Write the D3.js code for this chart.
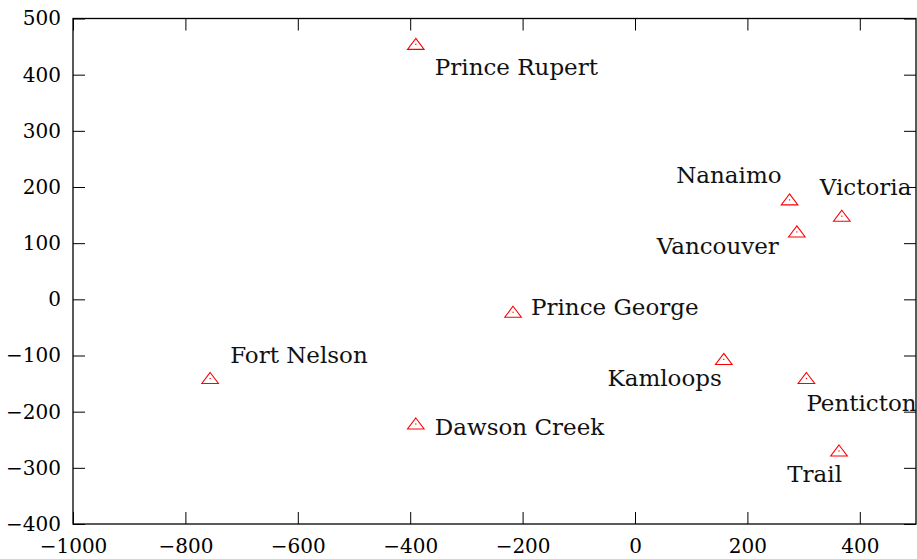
<!DOCTYPE html>
<html>
<head>
<meta charset="utf-8">
<script src="https://cdn.jsdelivr.net/npm/d3@7"></script>
<style>
  html, body { margin: 0; padding: 0; background: #fff; }
  svg { display: block; }
</style>
</head>
<body>
<svg id="chart" width="917" height="559"></svg>
<script>
// City positions (map-style coordinates)
const cities = ["Prince Rupert", "Nanaimo", "Victoria", "Vancouver", "Prince George",
                "Fort Nelson", "Kamloops", "Penticton", "Dawson Creek", "Trail"];
const xValues = [-390, 275, 368, 288, -217, -756, 158, 305, -390, 363];
const yValues = [454, 177, 148, 120, -23, -141, -107, -141, -222, -270];

// Tick values
const xTicks = [-1000, -800, -600, -400, -200, 0, 200, 400];
const yTicks = [-400, -300, -200, -100, 0, 100, 200, 300, 400, 500];

// Label placement relative to each marker: anchor, dx, dy (px)
const labelAnchor = ["start", "end", "start", "end", "start", "start", "end", "start", "start", "end"];
const labelDx = [19, -8, -22, -18, 18, 20, -2, 0, 19, 3];
const labelDy = [31, -17, -21, 22, 3, -16, 27, 32, 11, 31];

const W = 917, H = 559;
const margin = { left: 73, right: 1, top: 18.5, bottom: 35 };
const svg = d3.select("#chart");

const x = d3.scaleLinear().domain([-1000, 500]).range([margin.left, W - margin.right]);
const y = d3.scaleLinear().domain([-400, 500]).range([H - margin.bottom, margin.top]);

const serif = '"DejaVu Serif", serif';
const tickLen = 12;
const fmt = d => d < 0 ? "\u2212" + Math.abs(d) : String(d);

// Axes with inward ticks on all four sides
function styleAxis(g) {
  g.attr("font-family", null);
  g.select(".domain").remove();
  g.selectAll(".tick line").attr("stroke", "#000").attr("stroke-width", 1);
  g.selectAll(".tick text").style("font-family", serif).attr("font-size", 20).attr("fill", "#000");
}

svg.append("g")
  .attr("transform", `translate(0,${y(-400)})`)
  .call(d3.axisBottom(x).tickValues(xTicks).tickFormat(fmt).tickSizeInner(-tickLen).tickSizeOuter(0).tickPadding(15))
  .call(styleAxis);

svg.append("g")
  .attr("transform", `translate(0,${y(500)})`)
  .call(d3.axisTop(x).tickValues(xTicks).tickFormat("").tickSizeInner(-tickLen).tickSizeOuter(0))
  .call(styleAxis);

svg.append("g")
  .attr("transform", `translate(${x(-1000)},0)`)
  .call(d3.axisLeft(y).tickValues(yTicks).tickFormat(fmt).tickSizeInner(-tickLen).tickSizeOuter(0).tickPadding(12))
  .call(styleAxis);

svg.append("g")
  .attr("transform", `translate(${x(500)},0)`)
  .call(d3.axisRight(y).tickValues(yTicks).tickFormat("").tickSizeInner(-tickLen).tickSizeOuter(0))
  .call(styleAxis);

// Plot frame
svg.append("rect")
  .attr("x", x(-1000)).attr("y", y(500))
  .attr("width", x(500) - x(-1000)).attr("height", y(-400) - y(500))
  .attr("fill", "none").attr("stroke", "#000").attr("stroke-width", 1.3);

// Markers: open red triangles with a centre dot
const pts = svg.append("g");
const idx = d3.range(cities.length);
pts.selectAll("path.tri").data(idx).join("path")
  .attr("class", "tri")
  .attr("d", i => {
    const cx = x(xValues[i]), cy = y(yValues[i]);
    return `M${cx},${cy - 6}L${cx + 8.3},${cy + 5}L${cx - 8.3},${cy + 5}Z`;
  })
  .attr("fill", "none").attr("stroke", "#ff0000").attr("stroke-width", 1.1);
pts.selectAll("rect.dot").data(idx).join("rect")
  .attr("class", "dot")
  .attr("x", i => x(xValues[i]) - 0.6).attr("y", i => y(yValues[i]) - 0.6)
  .attr("width", 1.2).attr("height", 1.2).attr("fill", "#ff0000");

// City labels
svg.append("g").selectAll("text").data(idx).join("text")
  .attr("x", i => x(xValues[i]) + labelDx[i])
  .attr("y", i => y(yValues[i]) + labelDy[i])
  .attr("text-anchor", i => labelAnchor[i])
  .style("font-family", serif).attr("font-size", 23).attr("fill", "#111")
  .text(i => cities[i]);
</script>
</body>
</html>
